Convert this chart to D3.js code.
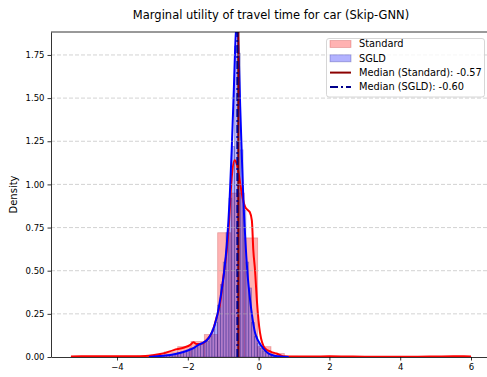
<!DOCTYPE html>
<html><head><meta charset="utf-8">
<script src="https://cdn.jsdelivr.net/npm/d3@7"></script>
<style>body{margin:0;background:#fff}svg{display:block}text{font-family:"DejaVu Sans",sans-serif}</style>
</head><body><svg id="c" width="487" height="377"></svg>
<script>
// ---- data ----
const titleText = "Marginal utility of travel time for car (Skip-GNN)";
const xTicks = [-4, -2, 0, 2, 4, 6];
const yTicks = [0, 0.25, 0.5, 0.75, 1.0, 1.25, 1.5, 1.75];
const seriesNames = ["Standard", "SGLD"];
const medianStandard = -0.57;
const medianSGLD = -0.60;
// Standard histogram: 30 bins from -5.3 to 6.0
const stdBinStart = -5.3, stdBinWidth = 0.37667;
const stdHeights = [0.004,0.003,0.003,0.003,0.004,0.005,0.01,0.03,0.06,0.09,0.13,0.72,0.95,0.69,0.06,0.02,0.004,0.003,0.003,0.002,0.002,0.002,0.002,0.002,0.002,0.002,0.003,0.003,0.003,0.003];
// SGLD histogram: 50 bins from -3.0 to 1.0
const sgldBinStart = -3.0, sgldBinWidth = 0.08;
const sgldHeights = [0,0.003,0.003,0.005,0.008,0.01,0.01,0.015,0.02,0.025,0.03,0.035,0.04,0.05,0.055,0.065,0.07,0.08,0.085,0.09,0.12,0.16,0.2,0.3,0.42,0.55,0.72,0.92,1.22,1.80,1.76,1.2,0.85,0.55,0.4,0.2,0.12,0.08,0.05,0.035,0.025,0.015,0.01,0.006,0.004,0.002,0.001,0.001,0,0];
// KDE curves
const kdeStdX = [-5.3,-5.0,-4.5,-4.0,-3.5,-3.2,-3.0,-2.7,-2.4,-2.1,-1.93,-1.84,-1.75,-1.65,-1.46,-1.3,-1.2,-1.09,-0.99,-0.9,-0.85,-0.76,-0.68,-0.62,-0.57,-0.5,-0.45,-0.38,-0.3,-0.25,-0.19,-0.15,-0.1,-0.05,0.04,0.18,0.35,0.51,0.69,1.0,1.5,2.0,2.5,3.0,3.5,4.0,4.5,5.0,5.5,5.8,6.0];
const kdeStdY = [0.003,0.004,0.004,0.004,0.004,0.006,0.01,0.02,0.04,0.055,0.07,0.085,0.075,0.075,0.1,0.15,0.22,0.31,0.47,0.62,0.74,1.04,1.14,1.12,1.07,0.98,0.92,0.87,0.85,0.84,0.79,0.62,0.5,0.33,0.14,0.05,0.03,0.02,0.005,0.003,0.003,0.004,0.003,0.002,0.002,0.002,0.002,0.003,0.004,0.004,0.003];
const kdeSgldX = [-3.1,-2.8,-2.5,-2.2,-2.0,-1.85,-1.7,-1.55,-1.45,-1.35,-1.25,-1.15,-1.05,-0.97,-0.9,-0.82,-0.76,-0.7,-0.65,-0.61,-0.57,-0.52,-0.47,-0.43,-0.38,-0.32,-0.24,-0.17,-0.1,0.0,0.13,0.25,0.4,0.55,0.7,0.85];
const kdeSgldY = [0.0,0.006,0.012,0.025,0.038,0.05,0.07,0.085,0.1,0.13,0.18,0.26,0.38,0.5,0.65,0.91,1.2,1.55,1.85,1.95,1.8,1.45,1.14,0.91,0.7,0.5,0.33,0.22,0.14,0.09,0.05,0.025,0.01,0.004,0.001,0.0];
const legendLabels = ["Standard", "SGLD", "Median (Standard): -0.57", "Median (SGLD): -0.60"];

// ---- layout ----
const L = 51, R = 491, T = 32, B = 357;
const svg = d3.select("#c");
const x = d3.scaleLinear().domain([-5.865, 6.565]).range([L, R]);
const y = d3.scaleLinear().domain([0, 1.883]).range([B, T]);

svg.append("defs").append("clipPath").attr("id","clip")
  .append("rect").attr("x",L).attr("y",T).attr("width",R-L).attr("height",B-T);
const plot = svg.append("g").attr("clip-path","url(#clip)");

function bins(start, w, h) { return h.map((v,i)=>({x0:start+i*w, x1:start+(i+1)*w, v})); }
const stdBins = bins(stdBinStart, stdBinWidth, stdHeights);
const sgldBins = bins(sgldBinStart, sgldBinWidth, sgldHeights);

function drawHist(data, color, edge, eop) {
  plot.append("g").selectAll("rect").data(data).join("rect")
    .attr("x", d=>x(d.x0)).attr("width", d=>x(d.x1)-x(d.x0))
    .attr("y", d=>y(d.v)).attr("height", d=>y(0)-y(d.v))
    .attr("fill", color).attr("fill-opacity", 0.3)
    .attr("stroke", edge).attr("stroke-opacity", eop).attr("stroke-width", 0.8);
}
drawHist(stdBins, "red", "#c03030", 0.35);
drawHist(sgldBins, "blue", "#202080", 0.35);

// grid
svg.append("g").selectAll("line").data(yTicks.filter(d=>d>0)).join("line")
  .attr("x1",L).attr("x2",R).attr("y1",d=>y(d)).attr("y2",d=>y(d))
  .attr("stroke","#b0b0b0").attr("stroke-opacity",0.7).attr("stroke-width",0.8)
  .attr("stroke-dasharray","4,2");

// KDE
const line = d3.line().x(d=>x(d[0])).y(d=>y(d[1])).curve(d3.curveMonotoneX);
plot.append("path").attr("d", line(kdeStdX.map((v,i)=>[v,kdeStdY[i]])))
  .attr("fill","none").attr("stroke","red").attr("stroke-width",2);
plot.append("path").attr("d", line(kdeSgldX.map((v,i)=>[v,kdeSgldY[i]])))
  .attr("fill","none").attr("stroke","blue").attr("stroke-width",2);

// medians
plot.append("line").attr("x1",x(medianStandard)).attr("x2",x(medianStandard))
  .attr("y1",B).attr("y2",T).attr("stroke","darkred").attr("stroke-width",2);
plot.append("line").attr("x1",x(medianSGLD)).attr("x2",x(medianSGLD))
  .attr("y1",B).attr("y2",T).attr("stroke","darkblue").attr("stroke-width",2)
  .attr("stroke-dasharray","8,3,2,3");

// axes
const fmt = d => (d<0 ? "\u2212"+Math.abs(d) : String(d));
const xa = svg.append("g").attr("transform",`translate(0,${B})`)
  .call(d3.axisBottom(x).tickValues(xTicks).tickSize(3.5).tickSizeOuter(0).tickFormat(fmt).tickPadding(3));
const ya = svg.append("g").attr("transform",`translate(${L},0)`)
  .call(d3.axisLeft(y).tickValues(yTicks).tickSize(3.5).tickSizeOuter(0).tickFormat(d3.format(".2f")).tickPadding(3));
[xa,ya].forEach(g=>{
  g.selectAll("text").attr("font-size","8.5px").attr("fill","#000").style("font-family","DejaVu Sans");
  g.selectAll("line").attr("stroke","#000").attr("stroke-width",0.8);
  g.select(".domain").attr("stroke","#000").attr("stroke-width",0.8);
});
svg.append("line").attr("x1",L).attr("x2",R).attr("y1",T).attr("y2",T).attr("stroke","#000").attr("stroke-width",0.8);

// labels
svg.append("text").attr("x",(L+R)/2).attr("y",18.5).attr("text-anchor","middle")
  .attr("font-size","11.5px").text(titleText);
svg.append("text").attr("transform",`translate(17,${(T+B)/2}) rotate(-90)`).attr("text-anchor","middle")
  .attr("font-size","10px").text("Density");

// legend
const lg = svg.append("g");
lg.append("rect").attr("x",326.5).attr("y",38.5).attr("width",158).attr("height",58.5).attr("rx",2.5)
  .attr("fill","#fff").attr("fill-opacity",0.8).attr("stroke","#ccc").attr("stroke-width",0.8);
const rowsY = [44, 58.3, 72.6, 86.9];
const colors = ["red","blue"];
const edges = ["#c03030","#202080"];
[0,1].forEach(i=>{
  lg.append("rect").attr("x",330).attr("y",rowsY[i]-3.5).attr("width",21).attr("height",7)
    .attr("fill",colors[i]).attr("fill-opacity",0.3).attr("stroke",edges[i]).attr("stroke-opacity",0.35).attr("stroke-width",0.8);
});
lg.append("line").attr("x1",330).attr("x2",351).attr("y1",rowsY[2]).attr("y2",rowsY[2]).attr("stroke","darkred").attr("stroke-width",2);
lg.append("line").attr("x1",330).attr("x2",351).attr("y1",rowsY[3]).attr("y2",rowsY[3]).attr("stroke","darkblue").attr("stroke-width",2).attr("stroke-dasharray","8,3,2,3");
legendLabels.forEach((t,i)=>{
  lg.append("text").attr("x",359).attr("y",rowsY[i]).attr("dy","0.35em").attr("font-size","9.8px").text(t);
});
</script></body></html>
